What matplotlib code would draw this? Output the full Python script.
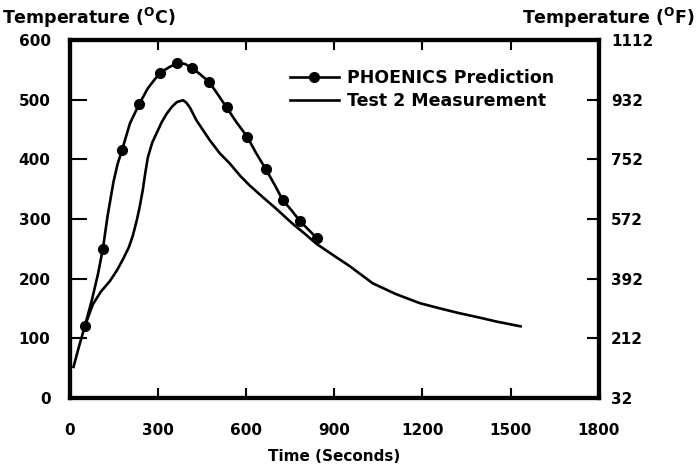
import matplotlib
matplotlib.use('Agg')
import matplotlib.pyplot as plt

## DATA
# PHOENICS prediction markers, time in s, temperature in deg C
pred_t = [51, 112, 177, 235, 306, 364, 415, 473, 533, 603, 666, 724, 782, 840]
pred_T = [121, 250, 415, 492, 545, 561, 553, 530, 487, 438, 384, 332, 297, 268]

# PHOENICS prediction curve traced between the markers
pred_line_t = [51, 75, 95, 112, 128, 148, 162, 177, 204, 235, 265, 306, 340,
               364, 391, 415, 442, 473, 503, 533, 567, 603, 633, 666, 697,
               724, 755, 782, 816, 840]
pred_line_T = [121, 165, 207, 250, 305, 362, 392, 415, 460, 492, 519, 545, 555,
               561, 560, 553, 543, 530, 509, 487, 462, 438, 411, 384, 357,
               332, 314, 297, 280, 268]

# Test 2 measurement (solid line)
meas_t = [12, 30, 51, 78, 105, 136, 160, 180, 200, 214, 228, 238, 248, 256,
          265, 280, 296, 312, 330, 347, 364, 385, 396, 408, 431, 476, 510,
          544, 580, 612, 660, 700, 758, 800, 840, 900, 952, 1031, 1110, 1190,
          1260, 1326, 1400, 1452, 1534]
meas_T = [52, 85, 121, 157, 178, 196, 214, 232, 252, 272, 299, 322, 349, 376,
          403, 428, 445, 462, 477, 488, 496, 499, 495, 487, 465, 432, 410,
          393, 372, 356, 335, 318, 292, 275, 258, 238, 221, 192, 174, 159,
          150, 142, 134, 128, 120]

x_ticks = [0, 300, 600, 900, 1200, 1500, 1800]
c_ticks = [0, 100, 200, 300, 400, 500, 600]
f_ticks = [32, 212, 392, 572, 752, 932, 1112]

## PLOT
plt.rcParams['font.family'] = ['DejaVu Sans']
plt.rcParams['font.weight'] = 'bold'

fig = plt.figure(figsize=(6.97, 4.76), dpi=100)
ax = fig.add_axes([0.1004, 0.164, 0.7586, 0.752])

ax.plot(meas_t, meas_T, color='black', lw=1.9, label='Test 2 Measurement')
ax.plot(pred_line_t, pred_line_T, color='black', lw=1.9)
ax.plot(pred_t, pred_T, 'o', color='black', markersize=7)
# legend entry for the prediction: line with marker
ax.plot([], [], color='black', lw=1.9, marker='o', markersize=7,
        label='PHOENICS Prediction')

ax.set_xlim(0, 1800)
ax.set_ylim(0, 600)
ax.set_xticks(x_ticks)
ax.set_yticks(c_ticks)

for s in ax.spines.values():
    s.set_linewidth(3)

ax.tick_params(axis='y', direction='in', length=12, width=1.5, pad=14, labelsize=11)
ax.tick_params(axis='x', direction='in', length=7, width=1.5, pad=18, labelsize=11,
               top=True)

ax2 = ax.twinx()
ax2.set_ylim(32, 1112)
ax2.set_yticks(f_ticks)
ax2.tick_params(axis='y', direction='in', length=9, width=1.5, pad=9, labelsize=11)
for s in ax2.spines.values():
    s.set_linewidth(3)

fig.text(0.003, 0.962, r'Temperature ($^{\mathrm{O}}$C)', fontsize=12.5, fontweight='bold',
         ha='left', va='center')
fig.text(0.997, 0.962, r'Temperature ($^{\mathrm{O}}$F)', fontsize=12.5, fontweight='bold',
         ha='right', va='center')
ax.set_xlabel('Time (Seconds)', fontsize=11, fontweight='bold', labelpad=8)

handles, labels = ax.get_legend_handles_labels()
ax.legend(handles[::-1], labels[::-1], loc='upper left', bbox_to_anchor=(0.40, 0.942),
          frameon=False, fontsize=12.5, handlelength=2.8, handletextpad=0.5,
          labelspacing=0.25, borderpad=0)

fig.savefig('out.png', dpi=100)
